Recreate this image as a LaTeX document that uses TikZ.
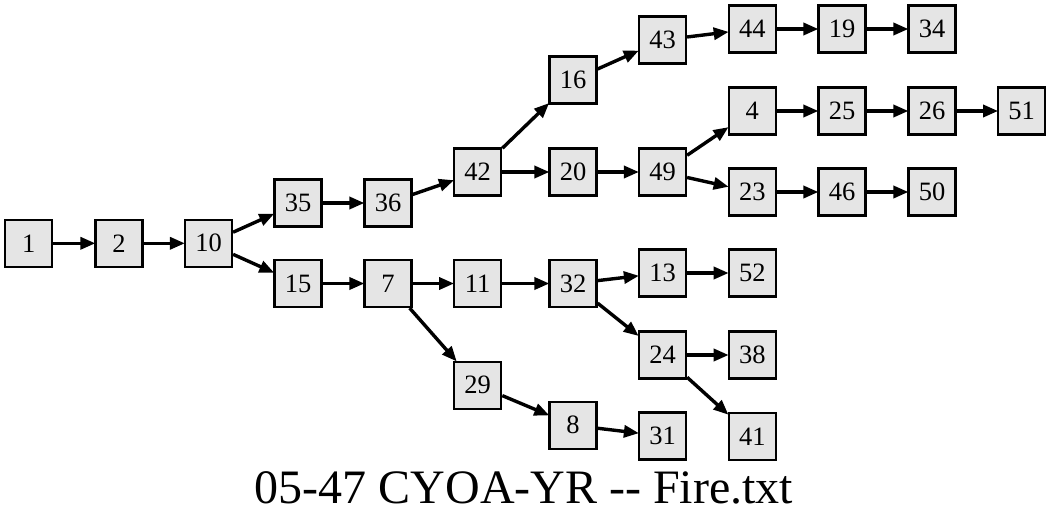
\documentclass[tikz,border=0pt]{standalone}
\usepackage{fontspec}
\setmainfont{Liberation Serif}
\usetikzlibrary{arrows.meta}
\definecolor{boxfill}{HTML}{E5E5E5}
\tikzset{
  box/.style={draw=black, fill=boxfill, line width=2.2pt, minimum width=47pt, minimum height=47pt, inner sep=0pt, font=\fontsize{26.5}{30}\selectfont},
  edge/.style={line width=3.4pt, -{Triangle[length=15pt,width=12pt]}, shorten >=-1pt}
}
\begin{document}
\begin{tikzpicture}[x=1pt,y=-1pt]
\useasboundingbox (0,0) rectangle (1056,524);
\node[box] (n1) at (28.7,243.3) {1};
\node[box] (n2) at (119,243.3) {2};
\node[box] (n10) at (208.5,243.3) {10};
\node[box] (n35) at (298,203) {35};
\node[box] (n15) at (298,283.5) {15};
\node[box] (n36) at (388,203) {36};
\node[box] (n7) at (388,283.5) {7};
\node[box] (n42) at (477.7,172) {42};
\node[box] (n11) at (477.7,283.5) {11};
\node[box] (n29) at (477.7,385.3) {29};
\node[box] (n16) at (573,80) {16};
\node[box] (n20) at (573,172) {20};
\node[box] (n32) at (573,283.5) {32};
\node[box] (n8) at (573,425.3) {8};
\node[box] (n43) at (662.5,40) {43};
\node[box] (n49) at (662.5,172) {49};
\node[box] (n13) at (662.5,273) {13};
\node[box] (n24) at (662.5,355) {24};
\node[box] (n31) at (662.5,436) {31};
\node[box] (n44) at (752.3,29) {44};
\node[box] (n4) at (752.3,111) {4};
\node[box] (n23) at (752.3,192) {23};
\node[box] (n52) at (752.3,273) {52};
\node[box] (n38) at (752.3,355) {38};
\node[box] (n41) at (752.3,436.3) {41};
\node[box] (n19) at (842,29) {19};
\node[box] (n25) at (842,111) {25};
\node[box] (n46) at (842,192) {46};
\node[box] (n34) at (932,29) {34};
\node[box] (n26) at (932,111) {26};
\node[box] (n50) at (932,192) {50};
\node[box] (n51) at (1021.7,111) {51};
\node[anchor=base, font=\fontsize{48}{52}\selectfont, inner sep=0pt] (title) at (524,503.7) {05-47 CYOA-YR -{}- Fire.txt};
\foreach \a/\b in {n1/n2, n2/n10, n10/n35, n10/n15, n35/n36, n36/n42, n42/n16, n42/n20, n16/n43, n43/n44, n44/n19, n19/n34, n20/n49, n49/n4, n49/n23, n4/n25, n25/n26, n26/n51, n23/n46, n46/n50, n15/n7, n7/n11, n7/n29, n11/n32, n32/n13, n32/n24, n13/n52, n24/n38, n24/n41, n29/n8, n8/n31}
  \draw[edge] (\a) -- (\b);
\end{tikzpicture}
\end{document}
